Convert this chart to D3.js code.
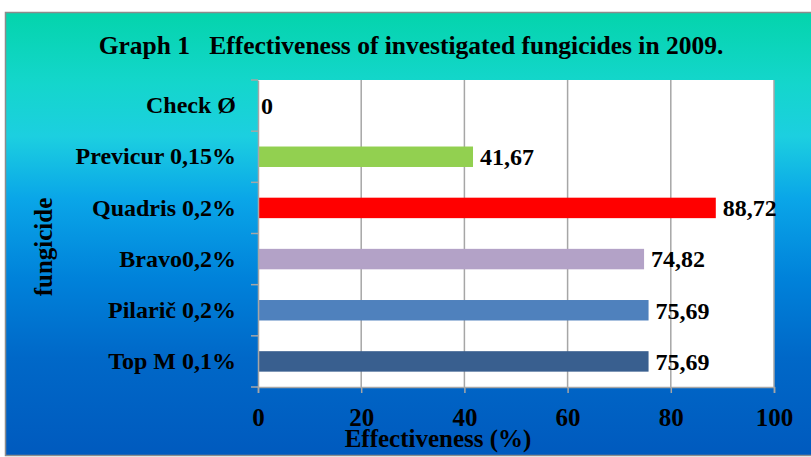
<!DOCTYPE html>
<html><head><meta charset="utf-8">
<script src="https://cdn.jsdelivr.net/npm/d3@7"></script>
<style>body{margin:0;background:#fff}svg{display:block}</style>
</head><body><svg id="c" width="811" height="457"></svg>
<script>
const categories = ["Check Ø","Previcur 0,15%","Quadris 0,2%","Bravo0,2%","Pilarič 0,2%","Top M 0,1%"];
const values = [0, 41.67, 88.72, 74.82, 75.69, 75.69];
const valueLabels = ["0","41,67","88,72","74,82","75,69","75,69"];
const barColors = ["#92d050","#92d050","#ff0000","#b3a2c7","#4f81bd","#395f8f"];
const xTicks = [0,20,40,60,80,100];
const title = "Graph 1   Effectiveness of investigated fungicides in 2009.";
const xTitle = "Effectiveness (%)";
const yTitle = "fungicide";

const svg = d3.select("#c");
const font = "'Liberation Serif','Times New Roman',serif";
const defs = svg.append("defs");
const g = defs.append("linearGradient").attr("id","bg").attr("x1",0).attr("y1",0).attr("x2",0).attr("y2",1);
[[0,"#04d4ac"],[0.16,"#14d6cc"],[0.28,"#1ccfe0"],[0.42,"#0aa6e8"],[0.6,"#0082da"],[0.78,"#0068c8"],[1,"#005abe"]]
  .forEach(([o,c])=>g.append("stop").attr("offset",o).attr("stop-color",c));

svg.append("rect").attr("x",5.5).attr("y",12.5).attr("width",812).attr("height",443)
  .attr("fill","url(#bg)").attr("stroke","#8c8c8c").attr("stroke-width",1.5);

const L=258, R=774, T=80, B=387;
const x = d3.scaleLinear().domain([0,100]).range([L,R]);
const y = d3.scaleBand().domain(categories).range([T,B]).paddingInner(0.6).paddingOuter(0.3);
const yb = d3.scaleBand().domain(categories).range([T,B]);

svg.append("rect").attr("x",L).attr("y",T).attr("width",R-L).attr("height",B-T).attr("fill","#fff");

// grid
svg.append("g").selectAll("line").data(xTicks.slice(1)).join("line")
  .attr("x1",d=>x(d)).attr("x2",d=>x(d)).attr("y1",T).attr("y2",B)
  .attr("stroke","#a6a6a6").attr("stroke-width",1.5);

// bars
svg.append("g").selectAll("rect").data(values).join("rect")
  .attr("x",x(0)).attr("y",(d,i)=>y(categories[i])).attr("height",y.bandwidth())
  .attr("width",d=>x(d)-x(0)).attr("fill",(d,i)=>barColors[i]);

// value labels
svg.append("g").selectAll("text").data(values).join("text")
  .attr("x",d=>x(d)+(d===0?3:7)).attr("y",(d,i)=>y(categories[i])+y.bandwidth()/2)
  .attr("dy","0.35em").attr("font-family",font).attr("font-weight","bold").attr("font-size",24)
  .attr("fill","#000").text((d,i)=>valueLabels[i]);

// x axis
const xa = svg.append("g").attr("transform",`translate(0,${B})`)
  .call(d3.axisBottom(x).tickValues(xTicks).tickSize(6).tickPadding(15).tickFormat(d3.format("d")));
xa.select(".domain").attr("stroke","#a6a6a6").attr("stroke-width",1.5);
xa.selectAll(".tick line").attr("stroke","#a6a6a6").attr("stroke-width",1.5);
xa.selectAll("text").attr("font-family",font).attr("font-weight","bold").attr("font-size",25).attr("fill","#000");

// y axis
const ya = svg.append("g").attr("transform",`translate(${L},0)`)
  .call(d3.axisLeft(yb).tickSize(0).tickPadding(22));
ya.select(".domain").attr("stroke","#a6a6a6").attr("stroke-width",1.5);
ya.selectAll("text").attr("font-family",font).attr("font-weight","bold").attr("font-size",24).attr("fill","#000");
ya.append("g").selectAll("line").data(d3.range(categories.length+1)).join("line")
  .attr("x1",-7).attr("x2",0).attr("y1",i=>T+i*yb.step()).attr("y2",i=>T+i*yb.step())
  .attr("stroke","#a6a6a6").attr("stroke-width",1.5);

// titles
svg.append("text").attr("x",411).attr("y",54).attr("text-anchor","middle")
  .attr("font-family",font).attr("font-weight","bold").attr("font-size",25.5).attr("fill","#000")
  .attr("xml:space","preserve").text(title);
svg.append("text").attr("x",438).attr("y",447).attr("text-anchor","middle")
  .attr("font-family",font).attr("font-weight","bold").attr("font-size",25).attr("fill","#000").text(xTitle);
svg.append("text").attr("transform","translate(52,247) rotate(-90)").attr("text-anchor","middle")
  .attr("font-family",font).attr("font-weight","bold").attr("font-size",25).attr("fill","#000").text(yTitle);
</script></body></html>
